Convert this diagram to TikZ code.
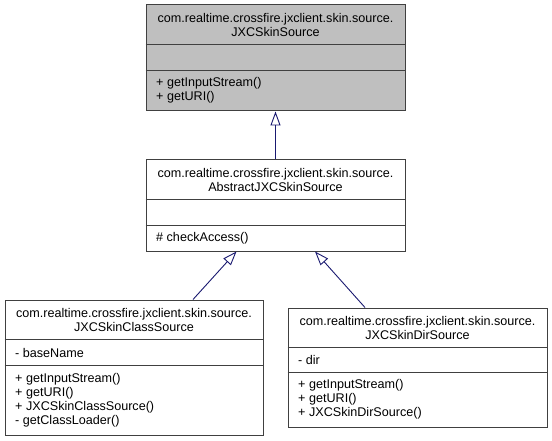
\documentclass[tikz,border=0pt]{standalone}
\usepackage{fontspec}
\setmainfont{Liberation Sans}
\usetikzlibrary{arrows.meta,calc}
\definecolor{boxline}{HTML}{404040}
\definecolor{curfill}{HTML}{BFBFBF}
\definecolor{edgeblue}{HTML}{191970}
\begin{document}
\begin{tikzpicture}[x=1pt,y=-1pt,
  classbox/.style={draw=boxline, line width=1pt, rectangle, inner sep=0pt, fill=white},
  curbox/.style={classbox, fill=curfill},
  divider/.style={draw=boxline, line width=1pt},
  titletext/.style={inner sep=0pt, align=center, font=\fontsize{12.6}{14}\selectfont},
  membertext/.style={inner sep=0pt, align=left, anchor=west, font=\fontsize{12.6}{14}\selectfont},
  inherit/.style={draw=edgeblue, line width=0.9pt, -{Triangle[open, length=14pt, width=10pt, line width=0.9pt]}}
]
\useasboundingbox (0,0) rectangle (552,441);

% boxes
\node[curbox, minimum width=259pt, minimum height=106pt] (top) at (275.5,58) {};
\node[classbox, minimum width=259pt, minimum height=91pt] (mid) at (275.5,205.5) {};
\node[classbox, minimum width=258pt, minimum height=135pt] (left) at (134,367.5) {};
\node[classbox, minimum width=259pt, minimum height=119pt] (right) at (417.5,367.5) {};

% dividers
\draw[divider] ([yshift=-40pt]top.north west) -- ([yshift=-40pt]top.north east);
\draw[divider] ([yshift=-66pt]top.north west) -- ([yshift=-66pt]top.north east);
\draw[divider] ([yshift=-40pt]mid.north west) -- ([yshift=-40pt]mid.north east);
\draw[divider] ([yshift=-66pt]mid.north west) -- ([yshift=-66pt]mid.north east);
\draw[divider] ([yshift=-40pt]left.north west) -- ([yshift=-40pt]left.north east);
\draw[divider] ([yshift=-66pt]left.north west) -- ([yshift=-66pt]left.north east);
\draw[divider] ([yshift=-40pt]right.north west) -- ([yshift=-40pt]right.north east);
\draw[divider] ([yshift=-65pt]right.north west) -- ([yshift=-65pt]right.north east);

% texts
\node[titletext] (topT) at ([yshift=-20pt]top.north) {com.realtime.crossfire.jxclient.skin.source.\\JXCSkinSource};
\node[membertext] (topM) at ([xshift=10.5pt,yshift=-86pt]top.north west) {+ getInputStream()\\+ getURI()};

\node[titletext] (midT) at ([yshift=-20pt]mid.north) {com.realtime.crossfire.jxclient.skin.source.\\AbstractJXCSkinSource};
\node[membertext] (midM) at ([xshift=10.5pt,yshift=-78.5pt]mid.north west) {\# checkAccess()};

\node[titletext] (leftT) at ([yshift=-20pt]left.north) {com.realtime.crossfire.jxclient.skin.source.\\JXCSkinClassSource};
\node[membertext] (leftA) at ([xshift=10.5pt,yshift=-53pt]left.north west) {- baseName};
\node[membertext] (leftM) at ([xshift=10.5pt,yshift=-100.5pt]left.north west) {+ getInputStream()\\+ getURI()\\+ JXCSkinClassSource()\\- getClassLoader()};

\node[titletext] (rightT) at ([yshift=-20pt]right.north) {com.realtime.crossfire.jxclient.skin.source.\\JXCSkinDirSource};
\node[membertext] (rightA) at ([xshift=10.5pt,yshift=-52.5pt]right.north west) {- dir};
\node[membertext] (rightM) at ([xshift=10.5pt,yshift=-92pt]right.north west) {+ getInputStream()\\+ getURI()\\+ JXCSkinDirSource()};

% inheritance arrows
\draw[inherit] (mid.north) -- (top.south);
\draw[inherit] ($(left.north)+(59,0)$) -- ($(mid.south)+(-39,0)$);
\draw[inherit] ($(right.north)+(-52.5,0)$) -- ($(mid.south)+(39.5,0)$);
\end{tikzpicture}
\end{document}
